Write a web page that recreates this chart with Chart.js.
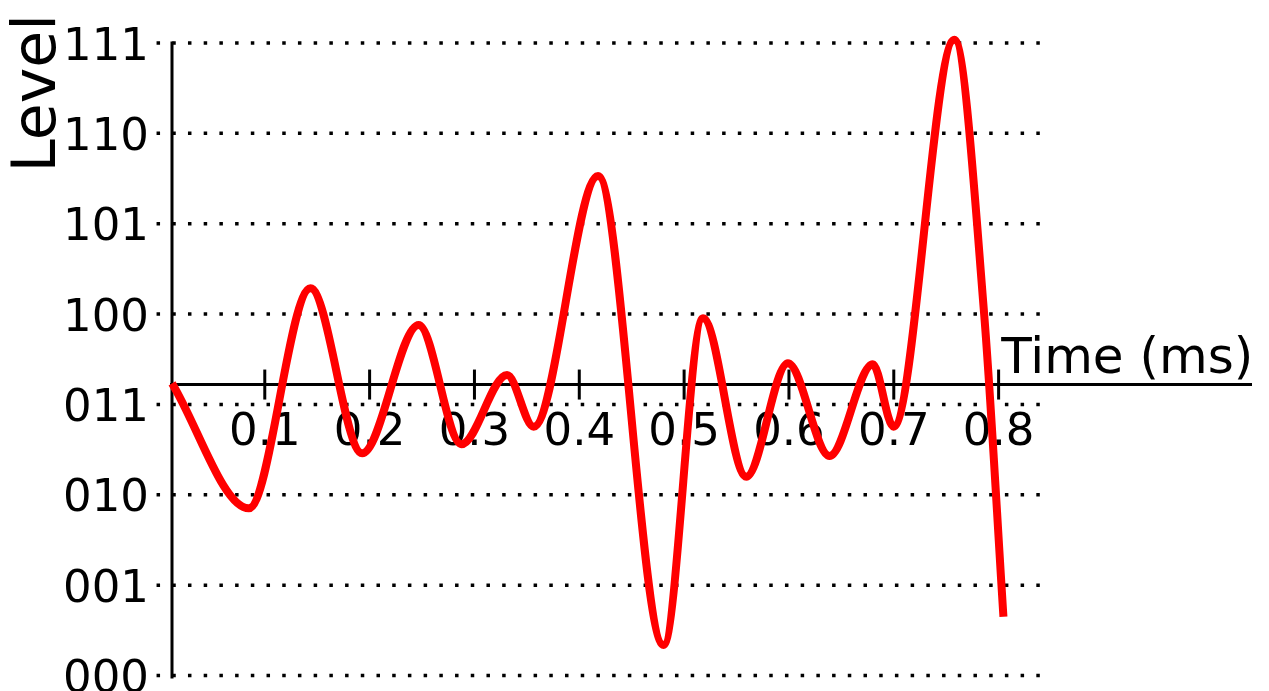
<!DOCTYPE html>
<html>
<head>
<meta charset="utf-8">
<script src="https://cdn.jsdelivr.net/npm/chart.js@4"></script>
<style>
  html, body { margin: 0; padding: 0; background: #fff; }
  .chart-wrap { width: 1269px; height: 691px; }
</style>
</head>
<body>
<div class="chart-wrap">
  <canvas id="Canvas"></canvas>
</div>
<script>
// signal: time (ms) and quantisation level (0..7)
const times  = [0.0115, 0.0848, 0.1436, 0.1929, 0.2468, 0.2875, 0.3311, 0.3565, 0.4179,
                0.4804, 0.5180, 0.5593, 0.5990, 0.6387, 0.6800, 0.6997, 0.7578, 0.7862, 0.8046];
const levels = [3.234, 1.850, 4.285, 2.459, 3.879, 2.559, 3.326, 2.753, 5.528,
                0.338, 3.953, 2.200, 3.455, 2.429, 3.444, 2.753, 7.035, 4.000, 0.650];

const levelLabels = ['000', '001', '010', '011', '100', '101', '110', '111'];
const timeTicks = [0.1, 0.2, 0.3, 0.4, 0.5, 0.6, 0.7, 0.8];
const timeTickLabels = ['0.1', '0.2', '0.3', '0.4', '0.5', '0.6', '0.7', '0.8'];

const xMin = 0.0115;
const xMax = 1.0417;
const axisLevel = 3.22;     // where the time axis crosses
const gridEnd = 0.8405;     // dotted lines stop here

const FONT = '"DejaVu Sans", sans-serif';

const axesPlugin = {
    id: 'axesPlugin',
    beforeDatasetsDraw(chart) {
        const ctx = chart.ctx;
        const xs = chart.scales.x;
        const ys = chart.scales.y;
        const area = chart.chartArea;
        const x0 = area.left;
        const axisY = ys.getPixelForValue(axisLevel);

        ctx.save();

        // dotted level lines
        ctx.strokeStyle = '#000';
        ctx.lineWidth = 3.5;
        ctx.setLineDash([3.5, 12.21]);
        levelLabels.forEach((lab, i) => {
            const y = ys.getPixelForValue(i);
            ctx.beginPath();
            ctx.moveTo(x0 - 15.45, y);
            ctx.lineTo(xs.getPixelForValue(gridEnd), y);
            ctx.stroke();
        });
        ctx.setLineDash([]);

        // level axis
        ctx.lineWidth = 3;
        ctx.beginPath();
        ctx.moveTo(x0, ys.getPixelForValue(7) - 1.5);
        ctx.lineTo(x0, ys.getPixelForValue(0) + 3);
        ctx.stroke();

        // time axis
        ctx.beginPath();
        ctx.moveTo(x0 - 2, axisY);
        ctx.lineTo(area.right, axisY);
        ctx.stroke();

        // time ticks, crossing the axis
        timeTicks.forEach(t => {
            const x = xs.getPixelForValue(t);
            ctx.beginPath();
            ctx.moveTo(x, axisY - 15);
            ctx.lineTo(x, axisY + 15);
            ctx.stroke();
        });

        ctx.fillStyle = '#000';
        ctx.font = '45px ' + FONT;

        // level labels
        ctx.textAlign = 'right';
        ctx.textBaseline = 'alphabetic';
        levelLabels.forEach((lab, i) => {
            ctx.fillText(lab, x0 - 23, ys.getPixelForValue(i) + 16.5);
        });

        // time labels
        ctx.textAlign = 'center';
        timeTicks.forEach((t, i) => {
            ctx.fillText(timeTickLabels[i], xs.getPixelForValue(t), axisY + 60.5);
        });

        // axis titles
        ctx.textAlign = 'left';
        ctx.font = '50px ' + FONT;
        ctx.fillText('Time (ms)', xs.getPixelForValue(0.8025), axisY - 12);

        ctx.font = '60px ' + FONT;
        ctx.translate(54.5, 172.5);
        ctx.rotate(-Math.PI / 2);
        ctx.fillText('Level', 0, 0);

        ctx.restore();
    }
};

const ctx = document.getElementById('Canvas').getContext('2d');

const config = {
    type: 'line',
    data: {
        datasets: [{
            label: 'Level',
            data: times.map((t, i) => ({ x: t, y: levels[i] })),
            borderColor: '#ff0000',
            backgroundColor: 'transparent',
            borderWidth: 8,
            pointRadius: 0,
            cubicInterpolationMode: 'monotone',
            clip: false
        }]
    },
    options: {
        responsive: true,
        maintainAspectRatio: false,
        animation: false,
        events: [],
        layout: {
            padding: { left: 172, top: 43, right: 17, bottom: 15.5 }
        },
        plugins: {
            legend: { display: false },
            tooltip: { enabled: false }
        },
        scales: {
            x: { type: 'linear', min: xMin, max: xMax, display: false },
            y: { type: 'linear', min: 0, max: 7, display: false }
        }
    },
    plugins: [axesPlugin]
};

new Chart(ctx, config);
</script>
</body>
</html>
